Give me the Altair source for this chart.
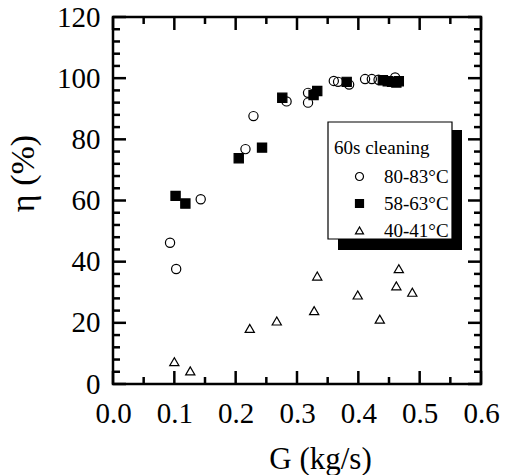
import altair as alt
import pandas as pd

# ---- data ----
series_names = ["80-83°C", "58-63°C", "40-41°C"]

g_hot = [0.093, 0.103, 0.143, 0.216, 0.229, 0.283, 0.318, 0.318, 0.360, 0.367, 0.385, 0.411, 0.422, 0.433, 0.460]
eta_hot = [46.2, 37.6, 60.4, 76.8, 87.6, 92.4, 95.2, 92.0, 99.1, 98.8, 97.9, 99.7, 99.7, 99.5, 100.2]

g_mid = [0.102, 0.118, 0.205, 0.243, 0.276, 0.327, 0.333, 0.381, 0.440, 0.448, 0.455, 0.462, 0.466]
eta_mid = [61.5, 59.0, 73.8, 77.3, 93.6, 94.5, 95.8, 98.8, 99.3, 99.0, 98.8, 98.6, 99.0]

g_cold = [0.100, 0.126, 0.223, 0.267, 0.328, 0.333, 0.399, 0.435, 0.462, 0.466, 0.488]
eta_cold = [7.3, 4.3, 18.2, 20.6, 24.0, 35.3, 29.1, 21.2, 32.1, 37.7, 30.0]

x_major = [0.0, 0.1, 0.2, 0.3, 0.4, 0.5, 0.6]
x_minor = [0.05, 0.15, 0.25, 0.35, 0.45, 0.55]
y_major = [0, 20, 40, 60, 80, 100, 120]
y_minor = [v for v in range(0, 121, 4) if v % 20 != 0]

legend_title = "60s cleaning"

# ---- tables ----
rows = []
for name, gs, es in [(series_names[0], g_hot, eta_hot),
                     (series_names[1], g_mid, eta_mid),
                     (series_names[2], g_cold, eta_cold)]:
    for g, e in zip(gs, es):
        rows.append({"G": g, "eta": e, "series": name})
df = pd.DataFrame(rows)

W, H = 368, 367
FONT = "Liberation Serif"

xscale = alt.Scale(domain=[0, 0.6], nice=False, zero=False)
yscale = alt.Scale(domain=[0, 120], nice=False, zero=False)

legend_def = alt.Legend(
    title=legend_title, orient="none", legendX=221, legendY=122,
    padding=0, titleFont=FONT, titleFontSize=19, titleFontWeight="normal",
    titleColor="black", titlePadding=9, titleBaseline="top",
    labelFont=FONT, labelFontSize=19, labelColor="black", labelOffset=15,
    symbolOffset=16, symbolSize=64, symbolStrokeColor="black", symbolStrokeWidth=1.2,
    rowPadding=7)

points = alt.Chart(df).mark_point(
    strokeWidth=1.2, opacity=1
).encode(
    x=alt.X("G:Q", scale=xscale, title="G (kg/s)", axis=alt.Axis(
        values=x_major, format=".1f", labelPadding=15, titleFontSize=31,
        titleX=207, titleY=84, titleBaseline="alphabetic", titleAnchor="middle")),
    y=alt.Y("eta:Q", scale=yscale, title="η (%)", axis=alt.Axis(
        values=y_major, format="d", labelPadding=13, titleFontSize=34,
        titleAngle=270, titleX=-80, titleY=156,
        titleBaseline="alphabetic", titleAlign="center")),
    shape=alt.Shape("series:N", scale=alt.Scale(domain=series_names,
                    range=["circle", "square", "triangle-up"]),
                    legend=legend_def),
    fill=alt.Fill("series:N", scale=alt.Scale(domain=series_names,
                  range=["transparent", "black", "transparent"]),
                  legend=legend_def),
    stroke=alt.Stroke("series:N", scale=alt.Scale(domain=series_names,
                      range=["black", "black", "black"]),
                      legend=legend_def),
    size=alt.value(85),
)

one = pd.DataFrame({"k": [0]})
shadow = alt.Chart(one).mark_rect(color="black").encode(
    x=alt.value(225), x2=alt.value(349), y=alt.value(113), y2=alt.value(233))
box = alt.Chart(one).mark_rect(fill="white", stroke="black", strokeWidth=1.2).encode(
    x=alt.value(215), x2=alt.value(339), y=alt.value(105), y2=alt.value(222))

ymaj = pd.DataFrame({"eta": y_major})
ymin = pd.DataFrame({"eta": y_minor})
xmaj = pd.DataFrame({"G": x_major})
xmin = pd.DataFrame({"G": x_minor})

tick_style = dict(color="black", strokeWidth=2.5)

def yticks(d, L):
    left = alt.Chart(d).mark_rule(**tick_style).encode(
        y=alt.Y("eta:Q", scale=yscale, title="η (%)"), x=alt.value(0), x2=alt.value(L))
    right = alt.Chart(d).mark_rule(**tick_style).encode(
        y=alt.Y("eta:Q", scale=yscale, title="η (%)"), x=alt.value(W), x2=alt.value(W - L))
    return [left, right]

def xticks(d, L):
    bottom = alt.Chart(d).mark_rule(**tick_style).encode(
        x=alt.X("G:Q", scale=xscale, title="G (kg/s)"), y=alt.value(H), y2=alt.value(H - L))
    top = alt.Chart(d).mark_rule(**tick_style).encode(
        x=alt.X("G:Q", scale=xscale, title="G (kg/s)"), y=alt.value(0), y2=alt.value(L))
    return [bottom, top]

layers = [points, shadow, box] + yticks(ymaj, 13) + yticks(ymin, 7) + xticks(xmaj, 13) + xticks(xmin, 7)

chart = alt.layer(*layers).properties(
    width=W, height=H,
    autosize=alt.AutoSizeParams(type="none"),
    padding={"left": 113, "top": 17, "right": 28, "bottom": 91},
).configure(
    background="white", font=FONT
).configure_view(
    stroke="black", strokeWidth=2.5
).configure_axis(
    ticks=False, tickSize=0, domain=False, grid=False,
    labelFont=FONT, labelFontSize=29, labelColor="black",
    labelFlush=False, labelOverlap=False, labelBound=False,
    titleFont=FONT, titleFontSize=30, titleFontWeight="normal", titleColor="black",
)

chart.save("out.html", embed_options={"renderer": "svg", "actions": False})
